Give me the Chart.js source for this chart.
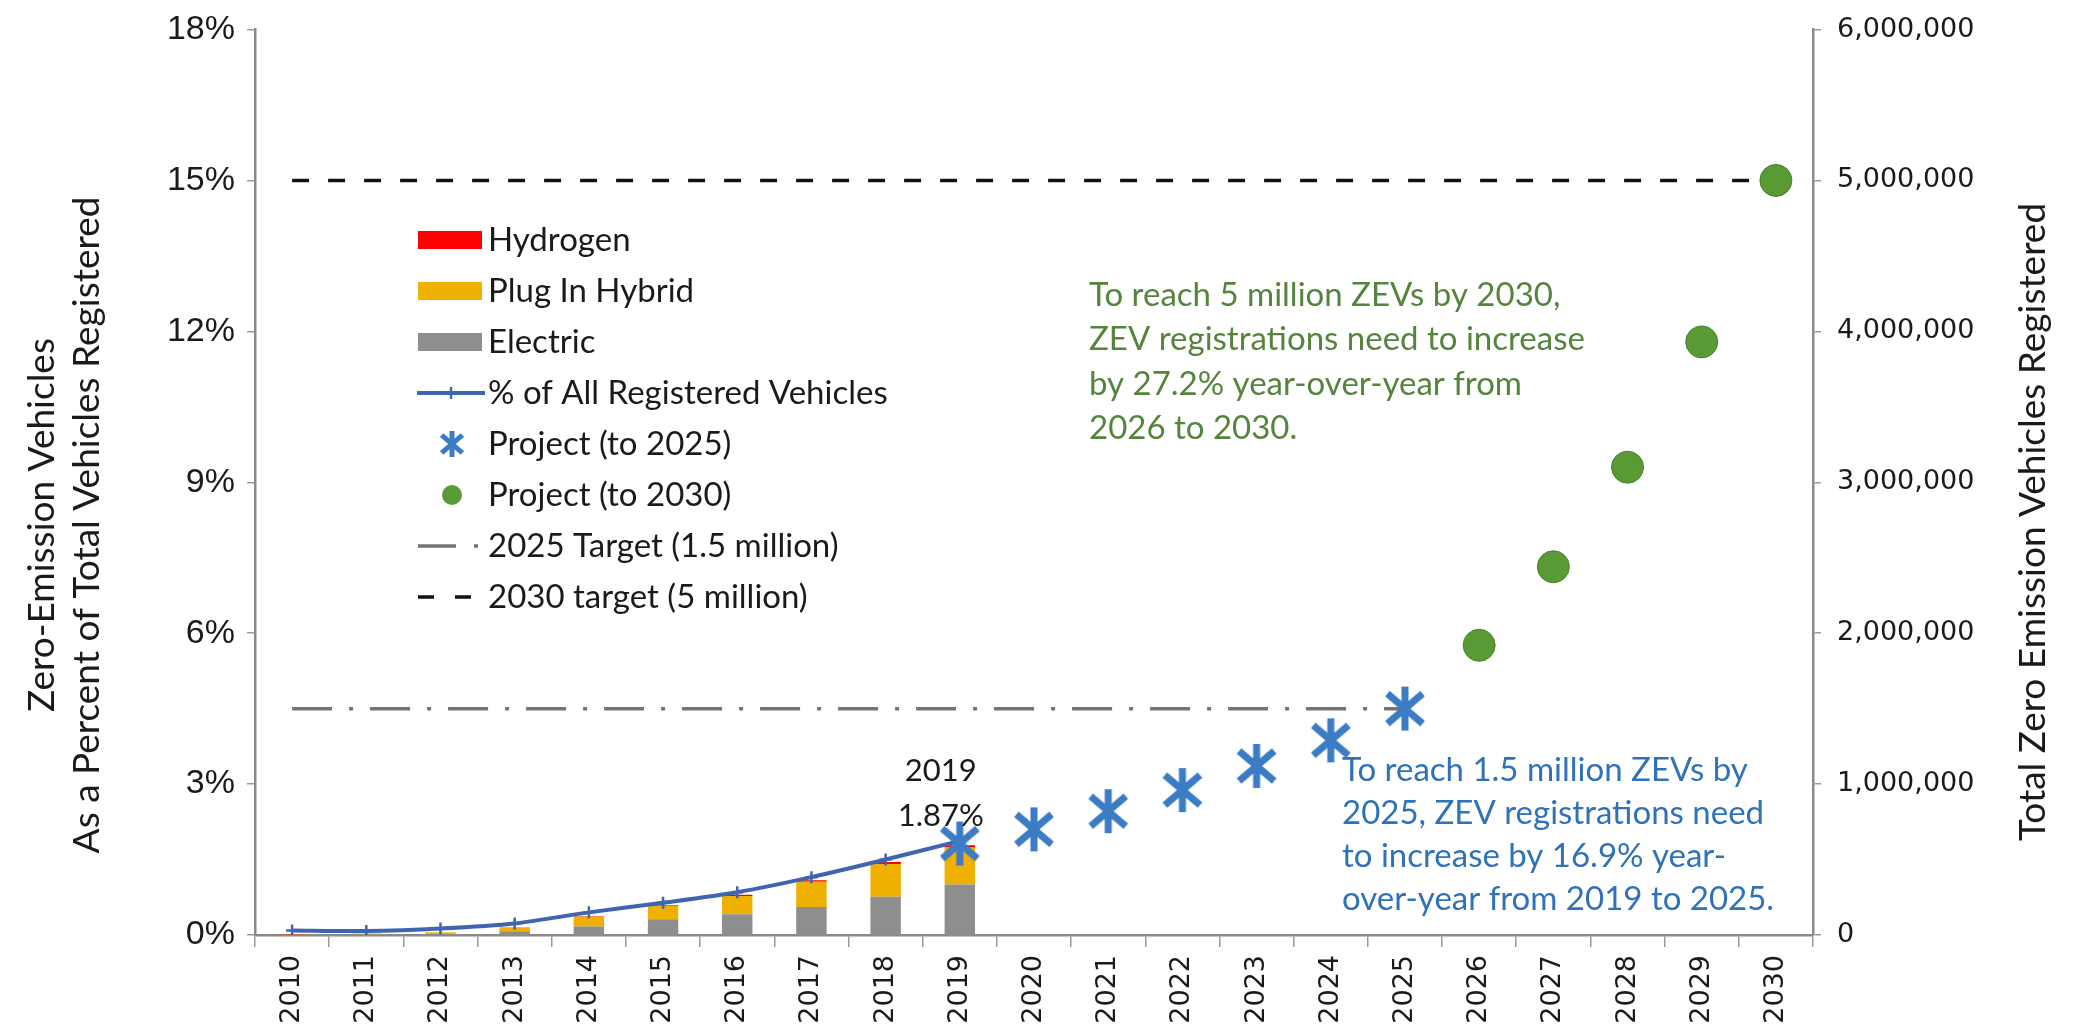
<!DOCTYPE html>
<html><head><meta charset="utf-8">
<script src="https://cdn.jsdelivr.net/npm/chart.js@4.4.1/dist/chart.umd.min.js"></script>
<style>html,body{margin:0;padding:0;background:#fff;overflow:hidden}canvas{display:block}</style>
</head><body>
<canvas id="c" width="2075" height="1033"></canvas>
<script>
// ---------- DATA ----------
const years = ['2010','2011','2012','2013','2014','2015','2016','2017','2018','2019','2020','2021','2022','2023','2024','2025','2026','2027','2028','2029','2030'];
const electric = [2000, 3000, 8000, 25000, 57000, 105000, 138000, 186000, 254000, 335000, null, null, null, null, null, null, null, null, null, null, null];
const plugInHybrid = [1000, 4000, 10000, 25000, 64000, 88000, 120000, 167000, 217000, 245000, null, null, null, null, null, null, null, null, null, null, null];
const hydrogen = [4000, 1000, 1000, 2000, 4000, 6000, 8000, 10000, 12000, 15000, null, null, null, null, null, null, null, null, null, null, null];
const pctRegistered = [0.09, 0.08, 0.13, 0.23, 0.45, 0.64, 0.85, 1.15, 1.50, 1.87, null, null, null, null, null, null, null, null, null, null, null];
const project2025 = [null, null, null, null, null, null, null, null, null, 606000, 700000, 820000, 960000, 1120000, 1290000, 1500000, null, null, null, null, null];
const project2030 = [null, null, null, null, null, null, null, null, null, null, null, null, null, null, null, null, 1920000, 2440000, 3100000, 3930000, 5000000];
const target2025 = [1500000, 1500000, 1500000, 1500000, 1500000, 1500000, 1500000, 1500000, 1500000, 1500000, 1500000, 1500000, 1500000, 1500000, 1500000, 1500000, null, null, null, null, null];
const target2030 = [5000000, 5000000, 5000000, 5000000, 5000000, 5000000, 5000000, 5000000, 5000000, 5000000, 5000000, 5000000, 5000000, 5000000, 5000000, 5000000, 5000000, 5000000, 5000000, 5000000, 5000000];
const leftTicks = [0, 3, 6, 9, 12, 15, 18];          // percent
const rightTicks = [0, 1000000, 2000000, 3000000, 4000000, 5000000, 6000000];
const seriesNames = ['Hydrogen', 'Plug In Hybrid', 'Electric', '% of All Registered Vehicles', 'Project (to 2025)', 'Project (to 2030)', '2025 Target (1.5 million)', '2030 target (5 million)'];
const leftTitle = ['Zero-Emission Vehicles', 'As a Percent of Total Vehicles Registered'];
const rightTitle = 'Total Zero Emission Vehicles Registered';
const greenNote = ['To reach 5 million ZEVs by 2030,', 'ZEV registrations need to increase', 'by 27.2% year-over-year from', '2026 to 2030.'];
const blueNote = ['To reach 1.5 million ZEVs by', '2025, ZEV registrations need', 'to increase by 16.9% year-', 'over-year from 2019 to 2025.'];
const callout = ['2019', '1.87%'];

// ---------- STYLES ----------
const C = {
  red: '#ff0000', gold: '#efb000', gray: '#8e8e8e', line: '#4065b0', star: '#3b7cc4',
  green: '#5a9a35', greenEdge: '#4a8029', t25: '#737373', t30: '#111111',
  greenText: '#55843c', blueText: '#2f72b8', text: '#1a1a1a', axis: '#8a8a8a'
};
const CAL = 'Lato, "Open Sans", sans-serif';

function makeStar(size, lw, color) {
  const c = document.createElement('canvas'); c.width = size; c.height = size;
  const g = c.getContext('2d'); g.strokeStyle = color; g.lineWidth = lw; g.lineCap = 'butt';
  const m = size / 2, r = size / 2 - 1, d = r * 0.8;
  g.beginPath();
  g.moveTo(m, m - r); g.lineTo(m, m + r);
  g.moveTo(m - d, m - d * 0.85); g.lineTo(m + d, m + d * 0.85);
  g.moveTo(m - d, m + d * 0.85); g.lineTo(m + d, m - d * 0.85);
  g.stroke();
  return c;
}
const starImg = makeStar(46, 7, C.star);
const starLegend = makeStar(28, 5, C.star);

const overlay = {
  id: 'overlay',
  afterDraw(chart) {
    const ctx = chart.ctx;
    ctx.save();
    // axis titles
    ctx.fillStyle = C.text;
    ctx.font = '37px ' + CAL;
    ctx.textAlign = 'center'; ctx.textBaseline = 'middle';
    const midY = 525;
    [[42, leftTitle[0]], [87, leftTitle[1]]].forEach(([x, t]) => {
      ctx.save(); ctx.translate(x, midY); ctx.rotate(-Math.PI / 2); ctx.fillText(t, 0, 0); ctx.restore();
    });
    ctx.save(); ctx.translate(2033, 522); ctx.rotate(-Math.PI / 2); ctx.fillText(rightTitle, 0, 0); ctx.restore();

    // legend
    const lx = 418, ly = 240, rh = 51, tx = 488;
    ctx.font = '33px ' + CAL; ctx.textAlign = 'left'; ctx.textBaseline = 'middle';
    seriesNames.forEach((name, i) => {
      const y = ly + i * rh;
      ctx.fillStyle = C.text; ctx.fillText(name, tx, y);
      if (i < 3) {
        ctx.fillStyle = [C.red, C.gold, C.gray][i];
        ctx.fillRect(lx, y - 9, 64, 18);
      } else if (i === 3) {
        ctx.strokeStyle = C.line; ctx.lineWidth = 4; ctx.setLineDash([]);
        ctx.beginPath(); ctx.moveTo(lx - 1, y); ctx.lineTo(lx + 67, y); ctx.stroke();
        ctx.lineWidth = 2.5; ctx.beginPath(); ctx.moveTo(lx + 33, y - 6); ctx.lineTo(lx + 33, y + 6); ctx.stroke();
      } else if (i === 4) {
        ctx.drawImage(starLegend, lx + 34 - 14, y - 14);
      } else if (i === 5) {
        ctx.fillStyle = C.green; ctx.beginPath(); ctx.arc(lx + 34, y, 10, 0, Math.PI * 2); ctx.fill();
      } else if (i === 6) {
        ctx.strokeStyle = C.t25; ctx.lineWidth = 3.5;
        ctx.beginPath(); ctx.moveTo(lx, y); ctx.lineTo(lx + 38, y); ctx.stroke();
        ctx.beginPath(); ctx.moveTo(lx + 56, y); ctx.lineTo(lx + 60, y); ctx.stroke();
      } else if (i === 7) {
        ctx.strokeStyle = C.t30; ctx.lineWidth = 3.5;
        ctx.beginPath(); ctx.moveTo(lx, y); ctx.lineTo(lx + 16, y); ctx.moveTo(lx + 37, y); ctx.lineTo(lx + 53, y); ctx.stroke();
      }
    });

    // notes
    ctx.font = '33px ' + CAL;
    ctx.fillStyle = C.greenText;
    greenNote.forEach((t, i) => ctx.fillText(t, 1089, 295 + i * 44.5));
    ctx.fillStyle = C.blueText;
    blueNote.forEach((t, i) => ctx.fillText(t, 1342, 770 + i * 43));

    // 2019 callout
    const meta = chart.getDatasetMeta(3);
    const pt = meta.data[9];
    ctx.fillStyle = C.text; ctx.textAlign = 'center'; ctx.font = '31px ' + CAL;
    ctx.fillText(callout[0], pt.x - 19, pt.y - 70);
    ctx.fillText(callout[1], pt.x - 19, pt.y - 25);
    ctx.restore();
  }
};

const tickFontY = { family: '"Liberation Sans", Arial, sans-serif', size: 34, lineHeight: 1 };
const tickFontV = { family: '"DejaVu Sans", Verdana, sans-serif', size: 27, lineHeight: 1 };

new Chart(document.getElementById('c'), {
  type: 'bar',
  data: {
    labels: years,
    datasets: [
      { label: seriesNames[2], data: electric, backgroundColor: C.gray, yAxisID: 'yb', stack: 'zev', order: 6, categoryPercentage: 1, barPercentage: 0.41 },
      { label: seriesNames[1], data: plugInHybrid, backgroundColor: C.gold, yAxisID: 'yb', stack: 'zev', order: 6, categoryPercentage: 1, barPercentage: 0.41 },
      { label: seriesNames[0], data: hydrogen, backgroundColor: C.red, yAxisID: 'yb', stack: 'zev', order: 6, categoryPercentage: 1, barPercentage: 0.41 },
      { type: 'line', label: seriesNames[3], data: pctRegistered, yAxisID: 'y', borderColor: C.line, borderWidth: 4, tension: 0.25,
        pointStyle: 'cross', pointRadius: 6, pointBorderWidth: 2.5, pointBorderColor: C.line, pointBackgroundColor: C.line, order: 3 },
      { type: 'line', label: seriesNames[4], data: project2025, yAxisID: 'y1', showLine: false, pointStyle: starImg, pointRadius: 23, order: 2 },
      { type: 'line', label: seriesNames[5], data: project2030, yAxisID: 'y1', showLine: false, pointStyle: 'circle', pointRadius: 16,
        pointBackgroundColor: C.green, pointBorderColor: C.greenEdge, pointBorderWidth: 1, order: 1 },
      { type: 'line', label: seriesNames[6], data: target2025, yAxisID: 'y1', borderColor: C.t25, borderWidth: 3.5, borderDash: [40, 17, 4, 17], pointRadius: 0, order: 4 },
      { type: 'line', label: seriesNames[7], data: target2030, yAxisID: 'y1', borderColor: C.t30, borderWidth: 3.5, borderDash: [17, 19], pointRadius: 0, order: 4 }
    ]
  },
  options: {
    responsive: false, animation: false, events: [],
    layout: { padding: { top: 22, left: 0, right: 0, bottom: 0 } },
    plugins: { legend: { display: false }, tooltip: { enabled: false } },
    scales: {
      x: {
        stacked: true, offset: true,
        grid: { offset: true, drawOnChartArea: false, drawTicks: true, tickLength: 12, color: '#9a9a9a', lineWidth: 1.5 },
        border: { display: true, color: C.axis, width: 2.5 },
        ticks: { minRotation: 90, maxRotation: 90, autoSkip: false, font: tickFontV, color: C.text, padding: 8 },
        afterFit: s => { s.height = 98; }
      },
      y: {
        position: 'left', min: leftTicks[0], max: leftTicks[leftTicks.length - 1],
        afterBuildTicks: s => { s.ticks = leftTicks.map(v => ({ value: v })); },
        ticks: { callback: v => v + '%', font: tickFontY, color: C.text, padding: 12 },
        grid: { drawOnChartArea: false, tickLength: 8, color: '#9a9a9a', lineWidth: 1.5 },
        border: { display: true, color: C.axis, width: 2.5 },
        afterFit: s => { s.width = 255; }
      },
      y1: {
        position: 'right', min: rightTicks[0], max: rightTicks[rightTicks.length - 1],
        afterBuildTicks: s => { s.ticks = rightTicks.map(v => ({ value: v })); },
        ticks: { callback: v => v.toLocaleString('en-US'), font: tickFontV, color: C.text, padding: 16 },
        grid: { drawOnChartArea: false, tickLength: 8, color: '#9a9a9a', lineWidth: 1.5 },
        border: { display: true, color: C.axis, width: 2.5 },
        afterFit: s => { s.width = 2075 - 1813; }
      },
      yb: { display: false, stacked: true, min: rightTicks[0], max: rightTicks[rightTicks.length - 1] }
    }
  },
  plugins: [overlay]
});
</script>
</body></html>
